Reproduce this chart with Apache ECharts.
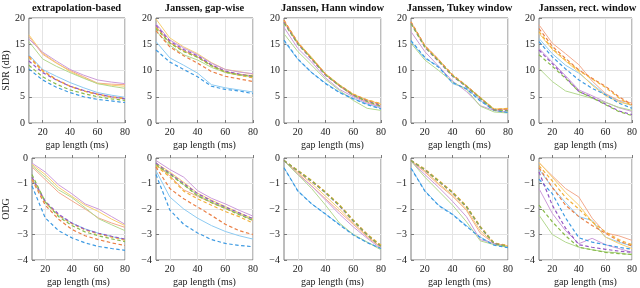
<!DOCTYPE html>
<html><head><meta charset="utf-8">
<script src="https://cdn.jsdelivr.net/npm/echarts@6/dist/echarts.min.js"></script>
<style>html,body{margin:0;padding:0;background:#fff}#c{width:640px;height:288px}</style>
</head><body><div id="c"></div>
<script>
const gapLengths = ['10','20','30','40','50','60','70','80'];
const panelTitles = ['extrapolation-based','Janssen, gap-wise','Janssen, Hann window','Janssen, Tukey window','Janssen, rect. window'];
const rowNames = ['SDR (dB)','ODG'];
// row order: solid blue, orange, yellow, purple, green, dashed blue, orange, yellow, purple, green
const sdrExtrapolation = [
  [13.0,10.2,8.9,7.7,6.7,5.8,5.3,4.9],
  [16.5,13.1,11.4,10.0,8.8,7.6,7.4,7.3],
  [16.8,13.3,11.5,9.8,8.6,7.5,7.2,7.0],
  [16.0,13.5,11.8,10.2,9.1,8.2,7.8,7.5],
  [15.5,12.2,10.8,9.6,8.5,7.5,7.0,6.6],
  [10.3,8.2,6.8,5.8,5.0,4.5,4.2,3.9],
  [12.7,10.0,8.3,7.0,6.1,5.5,5.0,4.7],
  [12.5,9.9,8.2,7.0,6.1,5.4,4.9,4.6],
  [11.8,9.6,8.2,7.0,6.2,5.5,5.0,4.6],
  [11.0,8.8,7.4,6.3,5.6,5.0,4.6,4.3]
];
const sdrGapwise = [
  [15.5,12.4,11.0,9.5,7.3,6.7,6.3,5.9],
  [18.4,15.3,13.8,12.6,11.0,9.8,9.3,9.0],
  [19.8,16.2,14.5,13.2,11.5,10.2,9.8,9.3],
  [18.9,15.8,14.3,13.0,11.4,10.2,9.7,9.4],
  [17.5,14.8,13.0,12.0,10.6,9.6,9.1,8.8],
  [13.9,11.6,10.2,8.8,7.0,6.4,6.1,5.6],
  [17.6,14.5,12.8,11.4,9.8,8.9,8.4,7.9],
  [18.3,15.3,13.7,12.6,10.9,9.7,9.1,8.6],
  [18.6,15.6,14.0,12.8,11.1,9.9,9.3,8.9],
  [18.0,15.2,13.6,12.5,10.9,9.7,9.2,8.9]
];
const sdrHann = [
  [15.6,12.1,9.6,7.6,5.9,4.7,3.6,2.8],
  [19.2,15.1,12.4,9.2,7.0,5.2,4.0,3.0],
  [19.5,15.4,12.5,9.4,7.3,5.5,4.4,3.6],
  [18.2,14.2,11.6,8.6,6.4,5.0,3.8,3.0],
  [17.0,13.6,11.0,8.3,6.2,4.3,2.8,2.4],
  [15.8,12.2,9.6,7.5,5.8,4.6,3.5,2.7],
  [19.6,15.3,12.3,9.3,7.2,5.4,4.3,3.5],
  [19.4,15.2,12.2,9.2,7.2,5.5,4.4,3.7],
  [19.2,15.0,12.1,9.1,7.1,5.3,4.2,3.3],
  [19.0,15.1,12.2,9.2,7.1,5.3,4.1,3.2]
];
const sdrTukey = [
  [15.5,12.3,10.8,7.5,6.6,4.3,2.4,2.0],
  [19.2,14.8,12.1,9.0,7.0,4.8,2.6,2.6],
  [19.0,14.7,12.0,9.1,7.1,4.9,2.7,2.7],
  [17.4,13.6,10.8,8.0,6.0,3.3,2.4,2.0],
  [15.2,12.0,10.0,7.8,6.4,3.2,2.1,1.9],
  [15.7,12.5,10.6,7.7,6.5,4.2,2.4,2.0],
  [19.3,14.7,12.0,9.2,7.1,4.8,2.5,2.7],
  [19.2,14.6,11.9,9.1,7.0,4.7,2.6,2.8],
  [19.0,14.4,11.7,8.9,6.9,4.6,2.5,2.4],
  [18.9,14.5,11.8,9.0,7.0,4.7,2.5,2.3]
];
const sdrRect = [
  [16.1,13.2,11.0,9.5,7.4,5.4,4.2,3.3],
  [18.7,15.2,13.2,11.1,8.0,5.6,4.3,3.8],
  [17.1,14.0,11.8,9.7,7.2,5.2,4.0,3.4],
  [14.2,11.6,9.0,6.3,5.2,4.0,2.9,2.2],
  [10.4,7.9,6.1,5.4,4.7,3.9,3.0,2.4],
  [15.5,12.6,10.3,8.2,6.6,5.4,3.8,2.8],
  [18.0,14.6,12.3,10.1,8.5,7.0,5.0,3.5],
  [17.4,14.2,12.0,10.0,8.4,6.8,4.8,3.3],
  [13.9,11.3,8.7,6.0,4.9,3.6,2.3,1.6],
  [13.0,10.8,8.5,6.0,4.8,3.5,2.2,1.4]
];
const odgExtrapolation = [
  [-0.8,-1.75,-2.25,-2.55,-2.78,-2.95,-3.08,-3.2],
  [-0.35,-0.85,-1.35,-1.68,-2.0,-2.35,-2.55,-2.72],
  [-0.25,-0.65,-1.15,-1.5,-1.85,-2.1,-2.4,-2.65],
  [-0.2,-0.55,-1.05,-1.4,-1.8,-2.0,-2.3,-2.6],
  [-0.3,-0.75,-1.25,-1.55,-1.95,-2.38,-2.62,-2.85],
  [-1.1,-2.35,-2.85,-3.13,-3.33,-3.47,-3.55,-3.62],
  [-0.85,-1.85,-2.4,-2.8,-3.05,-3.2,-3.33,-3.43],
  [-0.8,-1.75,-2.25,-2.58,-2.82,-2.98,-3.1,-3.22],
  [-0.75,-1.7,-2.2,-2.55,-2.8,-2.95,-3.07,-3.18],
  [-0.65,-1.72,-2.3,-2.65,-2.9,-3.05,-3.17,-3.28]
];
const odgGapwise = [
  [-0.5,-1.53,-2.0,-2.36,-2.65,-2.88,-3.05,-3.18],
  [-0.25,-0.7,-1.25,-1.5,-1.75,-1.98,-2.2,-2.45],
  [-0.2,-0.55,-0.95,-1.38,-1.65,-1.9,-2.15,-2.38],
  [-0.1,-0.45,-0.75,-1.28,-1.58,-1.8,-2.05,-2.28],
  [-0.3,-0.6,-1.05,-1.45,-1.72,-1.95,-2.2,-2.42],
  [-0.65,-2.04,-2.6,-2.94,-3.2,-3.35,-3.43,-3.48],
  [-0.35,-1.2,-1.6,-1.92,-2.25,-2.6,-2.85,-3.0],
  [-0.3,-0.75,-1.3,-1.6,-1.85,-2.1,-2.3,-2.55],
  [-0.2,-0.6,-1.0,-1.4,-1.68,-1.92,-2.15,-2.38],
  [-0.25,-0.65,-1.05,-1.48,-1.75,-1.98,-2.22,-2.45]
];
const odgHann = [
  [-0.38,-1.28,-1.8,-2.2,-2.6,-3.0,-3.3,-3.55],
  [-0.12,-0.6,-1.1,-1.6,-2.1,-2.6,-3.1,-3.5],
  [-0.12,-0.55,-1.0,-1.5,-2.0,-2.55,-3.05,-3.5],
  [-0.1,-0.65,-1.1,-1.65,-2.2,-2.7,-3.15,-3.55],
  [-0.12,-0.65,-1.2,-1.85,-2.55,-3.0,-3.3,-3.6],
  [-0.38,-1.3,-1.8,-2.2,-2.62,-3.02,-3.32,-3.55],
  [-0.1,-0.5,-0.9,-1.35,-1.85,-2.45,-3.0,-3.45],
  [-0.1,-0.48,-0.88,-1.33,-1.83,-2.43,-2.98,-3.42],
  [-0.1,-0.52,-0.92,-1.37,-1.88,-2.48,-3.02,-3.47],
  [-0.1,-0.5,-0.9,-1.36,-1.86,-2.46,-3.01,-3.46]
];
const odgTukey = [
  [-0.38,-1.28,-1.85,-2.2,-2.65,-3.1,-3.4,-3.5],
  [-0.12,-0.55,-1.05,-1.5,-2.05,-2.95,-3.35,-3.45],
  [-0.1,-0.5,-1.0,-1.45,-2.0,-2.85,-3.35,-3.45],
  [-0.12,-0.65,-1.15,-1.7,-2.3,-3.2,-3.35,-3.5],
  [-0.12,-0.75,-1.3,-1.85,-2.5,-3.25,-3.4,-3.5],
  [-0.4,-1.3,-1.87,-2.22,-2.68,-3.12,-3.42,-3.52],
  [-0.1,-0.45,-0.9,-1.35,-1.9,-2.7,-3.35,-3.45],
  [-0.1,-0.43,-0.88,-1.33,-1.88,-2.68,-3.33,-3.43],
  [-0.1,-0.47,-0.92,-1.37,-1.92,-2.72,-3.36,-3.46],
  [-0.1,-0.46,-0.91,-1.36,-1.91,-2.71,-3.35,-3.47]
];
const odgRect = [
  [-0.45,-1.15,-1.75,-2.3,-2.45,-3.1,-3.3,-3.45],
  [-0.19,-0.7,-1.2,-1.53,-2.36,-2.94,-3.05,-3.23],
  [-0.17,-0.75,-1.35,-1.85,-2.5,-3.1,-3.35,-3.55],
  [-1.2,-2.17,-2.85,-3.36,-3.15,-3.4,-3.55,-3.7],
  [-2.24,-3.0,-3.3,-3.5,-3.6,-3.68,-3.72,-3.8],
  [-0.83,-1.4,-2.35,-3.13,-3.3,-3.4,-3.5,-3.58],
  [-0.38,-1.15,-1.85,-2.3,-2.65,-2.95,-3.25,-3.45],
  [-0.3,-0.9,-1.55,-2.0,-2.5,-2.9,-3.2,-3.4],
  [-0.55,-1.85,-2.75,-3.4,-3.5,-3.58,-3.65,-3.7],
  [-1.85,-2.5,-3.05,-3.5,-3.6,-3.7,-3.75,-3.78]
];
const sdrPanels = [sdrExtrapolation, sdrGapwise, sdrHann, sdrTukey, sdrRect];
const odgPanels = [odgExtrapolation, odgGapwise, odgHann, odgTukey, odgRect];
const solidColors = ['#8ccaf2','#f2a98c','#f7cf6f','#cc9bd9','#b3d88f'];
const dashedColors = ['#3d9ae2','#ea7f45','#f2b13a','#9457c4','#88ba4a'];
const sdrRange = {min:0, max:20, interval:5};
const odgRange = {min:-4, max:0, interval:1};

const FONT = 'Liberation Serif';
const lefts = [28,156,284,411,539];
const W = 97, H = 105;
const tops = [18,158];

const grids=[], xAxes=[], yAxes=[], series=[], graphics=[];
const showEven = (i, v) => Number(v) % 20 === 0;
[sdrPanels, odgPanels].forEach((panels, r) => {
  const range = r === 0 ? sdrRange : odgRange;
  panels.forEach((rows, p) => {
    const gi = grids.length;
    grids.push({left: lefts[p], top: tops[r], width: W, height: H, show: true, borderColor: '#7a7a7a', borderWidth: 1, backgroundColor: 'transparent'});
    xAxes.push({gridIndex: gi, type: 'category', data: gapLengths, boundaryGap: false,
      axisLine: {show: false},
      axisTick: {show: true, inside: true, length: 3, interval: showEven, lineStyle: {color: '#7a7a7a'}},
      axisLabel: {interval: showEven, fontFamily: FONT, fontSize: 10, color: '#222', margin: 4},
      splitLine: {show: true, interval: showEven, lineStyle: {color: '#e4e4e4', width: 1}},
      name: 'gap length (ms)', nameLocation: 'middle', nameGap: 17,
      nameTextStyle: {fontFamily: FONT, fontSize: 10, color: '#222'}});
    yAxes.push({gridIndex: gi, type: 'value', min: range.min, max: range.max, interval: range.interval,
      axisLine: {show: false},
      axisTick: {show: true, inside: true, length: 3, lineStyle: {color: '#7a7a7a'}},
      axisLabel: {fontFamily: FONT, fontSize: 10, color: '#222', margin: 4,
        formatter: v => String(v).replace('-', '\u2212')},
      splitLine: {show: true, lineStyle: {color: '#e4e4e4', width: 1}},
      name: p === 0 ? rowNames[r] : '', nameLocation: 'middle', nameGap: r === 0 ? 17 : 21,
      nameTextStyle: {fontFamily: FONT, fontSize: 10, color: '#222'}});
    rows.forEach((vals, k) => {
      const dashed = k >= 5;
      const c = dashed ? dashedColors[k-5] : solidColors[k];
      series.push({type: 'line', xAxisIndex: gi, yAxisIndex: gi, data: vals,
        showSymbol: false, symbol: 'none', silent: true, animation: false,
        z: dashed ? 3 : 2,
        lineStyle: {color: c, width: dashed ? 1.2 : 1, type: dashed ? [3.5, 2.5] : 'solid'}});
    });
    if (r === 0) {
      graphics.push({type: 'text', x: lefts[p] + W/2, y: 8,
        style: {text: panelTitles[p], textAlign: 'center', textVerticalAlign: 'middle',
          font: 'bold 10.5px "' + FONT + '"', fill: '#111'}});
    }
  });
});

const chart = echarts.init(document.getElementById('c'), null, {renderer: 'canvas'});
chart.setOption({animation: false, grid: grids, xAxis: xAxes, yAxis: yAxes, series: series, graphic: graphics});
</script>
</body></html>
